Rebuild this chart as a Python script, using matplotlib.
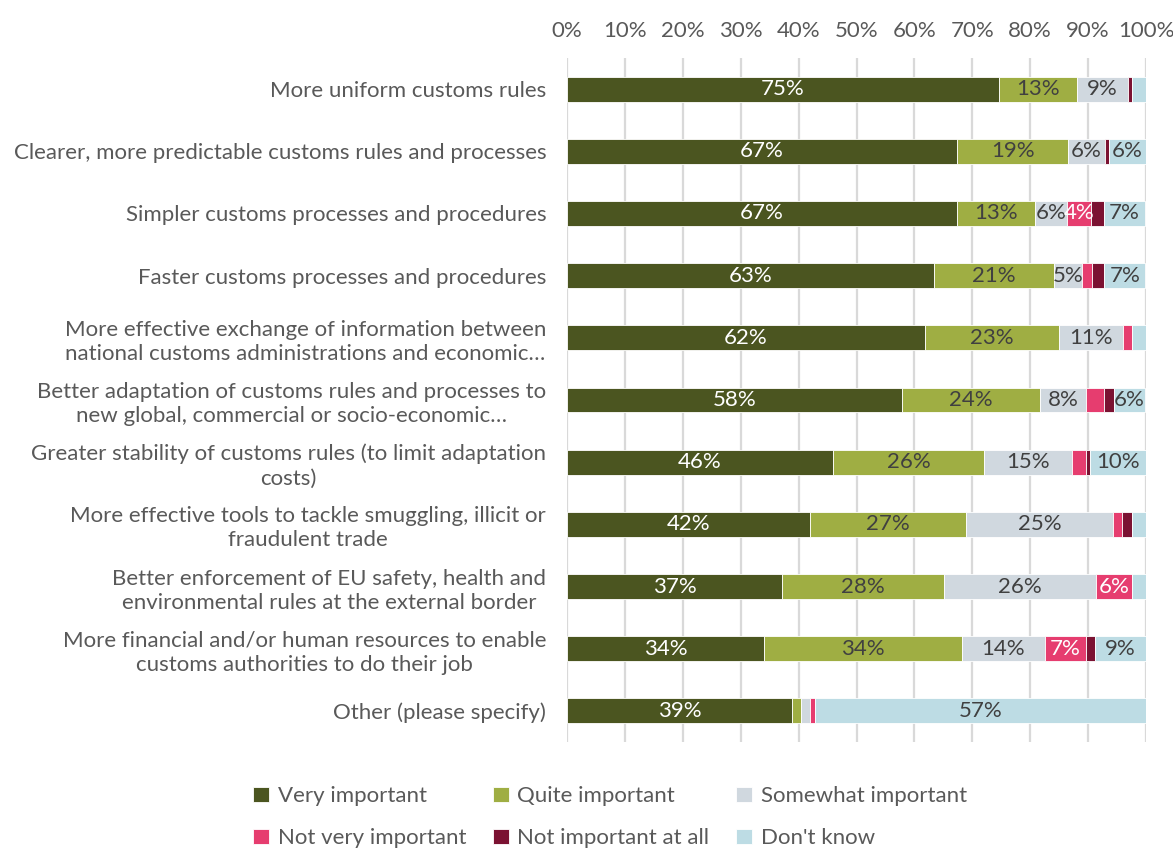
import matplotlib.pyplot as plt
import numpy as np

plt.rcParams['font.family'] = ['Lato', 'DejaVu Sans']

categories = [
    "More uniform customs rules",
    "Clearer, more predictable customs rules and processes",
    "Simpler customs processes and procedures",
    "Faster customs processes and procedures",
    "More effective exchange of information between\nnational customs administrations and economic\u2026",
    "Better adaptation of customs rules and processes to\nnew global, commercial or socio-economic\u2026",
    "Greater stability of customs rules (to limit adaptation\ncosts)",
    "More effective tools to tackle smuggling, illicit or\nfraudulent trade",
    "Better enforcement of EU safety, health and\nenvironmental rules at the external border",
    "More financial and/or human resources to enable\ncustoms authorities to do their job",
    "Other (please specify)",
]

series_names = ["Very important", "Quite important", "Somewhat important",
                "Not very important", "Not important at all", "Don't know"]

very_important = [74.6, 67.4, 67.4, 63.4, 61.8, 57.8, 45.9, 42.0, 37.1, 34.0, 38.8]
quite_important = [13.4, 19.1, 13.4, 20.7, 23.1, 23.9, 26.2, 26.9, 28.0, 34.2, 1.6]
somewhat_important = [8.9, 6.4, 5.6, 4.8, 11.1, 7.9, 15.1, 25.4, 26.2, 14.3, 1.6]
not_very_important = [0.0, 0.0, 4.1, 1.7, 1.6, 3.2, 2.5, 1.6, 6.3, 7.1, 0.9]
not_important_at_all = [0.7, 0.7, 2.2, 2.2, 0.0, 1.6, 0.7, 1.6, 0.0, 1.6, 0.0]
dont_know = [2.4, 6.4, 7.1, 7.1, 2.4, 5.5, 9.6, 2.5, 2.4, 8.8, 57.1]

series = [very_important, quite_important, somewhat_important,
          not_very_important, not_important_at_all, dont_know]
colors = ["#4b5520", "#9fae43", "#d0d8df", "#e63d6f", "#7b1232", "#bddce4"]
label_colors = ["white", "#404040", "#404040", "white", "white", "#404040"]

fig = plt.figure(figsize=(11.73, 8.48), dpi=100)
ax = fig.add_axes([0.4834, 0.125, 0.4936, 0.8066])

y = np.arange(len(categories))
left = np.zeros(len(categories))
handles = []
for vals, col, lc, name in zip(series, colors, label_colors, series_names):
    vals = np.array(vals)
    bars = ax.barh(y, vals, left=left, height=0.4, color=col, label=name,
                   edgecolor="white", linewidth=0.6, zorder=3)
    handles.append(bars)
    # only label segments wide enough to hold text
    for yi, l, v in zip(y, left, vals):
        if v >= 3.5:
            ax.text(l + v / 2, yi, f"{round(v):.0f}%", ha="center", va="center",
                    color=lc, fontsize=16, zorder=4)
    left = left + vals

ax.set_xlim(0, 100)
ax.set_ylim(len(categories) - 0.5, -0.5)
ax.set_yticks(y)
ax.set_yticklabels(categories, fontsize=16, color="#595959",
                   multialignment="center", linespacing=1.25)
ax.set_xticks(np.arange(0, 101, 10))
ax.set_xticklabels([f"{t}%" for t in range(0, 101, 10)], fontsize=16, color="#595959")
ax.tick_params(axis="x", which="both", top=True, labeltop=True, bottom=False,
               labelbottom=False, length=0, pad=12)
ax.tick_params(axis="y", length=0, pad=15)
ax.grid(axis="x", color="#d9d9d9", linewidth=1.6, zorder=0)
for s in ax.spines.values():
    s.set_visible(False)

# legend filled row by row
order = [0, 3, 1, 4, 2, 5]
fig.legend([handles[i] for i in order], [series_names[i] for i in order],
           loc="lower left", bbox_to_anchor=(0.199, -0.024), ncol=3, frameon=False,
           fontsize=16, labelcolor="#595959", handlelength=0.7, handleheight=0.7,
           handletextpad=0.4, columnspacing=1.2, labelspacing=1.0)

fig.savefig("out.png", dpi=100)
